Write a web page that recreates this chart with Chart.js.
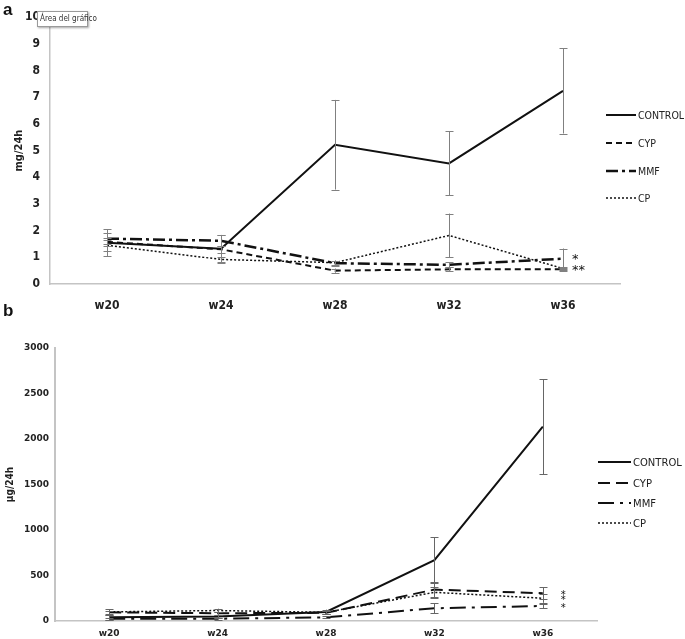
<!DOCTYPE html>
<html>
<head>
<meta charset="utf-8">
<script src="https://cdn.jsdelivr.net/npm/chart.js@4.4.1/dist/chart.umd.min.js"></script>
<style>
  body { margin: 0; background: #fff; width: 685px; height: 639px; position: relative; overflow: hidden; }
  .panel { position: absolute; left: 0; width: 685px; }
  #wrapA { top: 0; height: 318px; }
  #wrapB { top: 318px; height: 321px; }
  .tag { position: absolute; left: 3px; font: bold 17px 'Liberation Sans', Arial, sans-serif; color: #111; }
  .legend { position: absolute; color: #222; }
  .legend .item { position: absolute; left: 0; display: flex; align-items: center; white-space: nowrap; height: 14px; }
  .legend svg { display: block; }
  #legendA { left: 606px; top: 0; font: 10.5px 'Liberation Sans Narrow', 'DejaVu Sans Condensed', sans-serif; }
  #legendB { left: 598px; top: 318px; font: 10px 'DejaVu Sans', sans-serif; }
  #tip { position: absolute; left: 37px; top: 11px; width: 51px; height: 16px; box-sizing: border-box;
         border: 1px solid #9a9a9a; background: #fff; box-shadow: 1px 1px 2px rgba(0,0,0,0.35);
         font: 8px 'DejaVu Sans Condensed', sans-serif; color: #333; line-height: 14px; padding-left: 2px; white-space: nowrap; }
</style>
</head>
<body>
<div class="panel" id="wrapA"><canvas id="chartA"></canvas></div>
<div class="panel" id="wrapB"><canvas id="chartB"></canvas></div>
<div class="tag" style="top:0px">a</div>
<div class="tag" style="top:301px">b</div>
<div id="tip">Área del gráfico</div>
<div class="legend" id="legendA"></div>
<div class="legend" id="legendB"></div>
<script>
// ---- data ----
const weeks = ['w20', 'w24', 'w28', 'w32', 'w36'];
const seriesNames = ['CONTROL', 'CYP', 'MMF', 'CP'];

// panel a, mg/24h
const controlA = [1.55, 1.32, 5.22, 4.52, 7.24];
const cypA = [1.58, 1.30, 0.50, 0.55, 0.55];
const mmfA = [1.70, 1.62, 0.78, 0.72, 0.95];
const cpA = [1.45, 0.92, 0.80, 1.82, 0.58];
const controlErrA = [0.50, 0.52, 1.68, 1.20, 1.60];
const cypErrA = [0.15, 0.12, 0.08, 0.08, 0.05];
const mmfErrA = [0.20, 0.20, 0.10, 0.10, 0.38];
const cpErrA = [0.20, 0.10, 0.08, 0.82, 0.05];
const starsA = ['', '**', '*', ''];

// panel b, µg/24h
const controlB = [40, 50, 100, 668, 2135];
const cypB = [95, 85, 90, 345, 305];
const mmfB = [25, 25, 40, 140, 165];
const cpB = [100, 115, 95, 315, 250];
const controlErrB = [25, 20, 25, 252, 520];
const cypErrB = [20, 15, 15, 80, 65];
const mmfErrB = [10, 10, 10, 55, 25];
const cpErrB = [30, 20, 20, 60, 50];
const starsB = ['', '*', '*', '*'];

// line looks
const dashA = [[], [6, 4], [12, 4, 3, 4], [2, 2]];
const widthA = [2, 2, 2.5, 1.5];
const dashB = [[], [12, 6], [16, 6, 3, 6], [2, 2]];
const widthB = [2, 2, 2, 1.5];

// draws error bars and significance stars through the scales
const errorBars = {
  id: 'errorBars',
  afterDatasetsDraw(chart, args, opts) {
    const { ctx, scales: { x, y } } = chart;
    ctx.save();
    ctx.strokeStyle = opts.color;
    ctx.lineWidth = 1;
    ctx.setLineDash([]);
    chart.data.datasets.forEach((ds) => {
      ds.data.forEach((v, i) => {
        const px = Math.round(x.getPixelForValue(i)) + 0.5;
        const top = y.getPixelForValue(v + ds.errors[i]);
        const bot = y.getPixelForValue(Math.max(0, v - ds.errors[i]));
        ctx.beginPath();
        ctx.moveTo(px, top); ctx.lineTo(px, bot);
        ctx.moveTo(px - opts.cap, Math.round(top) + 0.5); ctx.lineTo(px + opts.cap, Math.round(top) + 0.5);
        ctx.moveTo(px - opts.cap, Math.round(bot) + 0.5); ctx.lineTo(px + opts.cap, Math.round(bot) + 0.5);
        ctx.stroke();
      });
    });
    ctx.fillStyle = '#111';
    ctx.font = opts.starFont;
    ctx.textAlign = 'left';
    ctx.textBaseline = 'middle';
    chart.data.datasets.forEach((ds) => {
      if (!ds.star) return;
      const last = ds.data.length - 1;
      ctx.fillText(ds.star, x.getPixelForValue(last) + opts.starDx, y.getPixelForValue(ds.data[last]) + opts.starDy);
    });
    ctx.restore();
  }
};

const makeSets = (vals, errs, stars, dash, widths, endMark) => vals.map((d, k) => ({
  label: seriesNames[k],
  data: d,
  errors: errs[k],
  star: stars[k],
  borderColor: '#111',
  backgroundColor: '#111',
  borderWidth: widths[k],
  borderDash: dash[k],
  pointStyle: 'rect',
  pointRadius: d.map((v, i) => (endMark === k && i === d.length - 1 ? 3 : 0)),
  pointBorderWidth: 0,
  tension: 0,
  fill: false,
}));

const buildLegend = (el, dash, widths, lineW, rows) => {
  seriesNames.forEach((name, k) => {
    const item = document.createElement('div');
    item.className = 'item';
    item.style.top = (rows[k] - 7) + 'px';
    item.innerHTML = `<svg width="${lineW}" height="6"><line x1="0" y1="3" x2="${lineW}" y2="3" stroke="#111" stroke-width="${widths[k]}" stroke-dasharray="${dash[k].join(' ') || 'none'}"/></svg><span style="margin-left:2px">${name}</span>`;
    el.appendChild(item);
  });
};

const fontA = "'Liberation Sans Narrow', 'DejaVu Sans Condensed', sans-serif";
const fontB = "'DejaVu Sans', sans-serif";

new Chart(document.getElementById('chartA'), {
  type: 'line',
  data: {
    labels: weeks,
    datasets: makeSets([controlA, cypA, mmfA, cpA], [controlErrA, cypErrA, mmfErrA, cpErrA], starsA, dashA, widthA, 1),
  },
  options: {
    responsive: true,
    maintainAspectRatio: false,
    animation: false,
    layout: { padding: { left: 0, right: 65, top: 12, bottom: 0 } },
    plugins: {
      legend: { display: false },
      tooltip: { enabled: false },
      errorBars: { color: '#808080', cap: 4, starFont: '13px ' + fontB, starDx: 9, starDy: 1 },
    },
    scales: {
      x: {
        offset: true,
        grid: { display: false, drawTicks: false },
        border: { display: true, color: '#c4c4c4', width: 1.5 },
        ticks: { color: '#222', padding: 15, font: { family: fontA, size: 12, weight: 'bold' } },
        afterFit: (s) => { s.height = 34; },
      },
      y: {
        min: 0, max: 10,
        ticks: { stepSize: 1, color: '#222', padding: 10, font: { family: fontA, size: 12, weight: 'bold' } },
        grid: { display: false, drawTicks: false },
        border: { display: true, color: '#c4c4c4', width: 1.5 },
        title: { display: true, text: 'mg/24h', color: '#222', padding: { top: 13, bottom: 0 }, font: { family: fontA, size: 11, weight: 'bold' } },
        afterFit: (s) => { s.width = 50; },
      },
    },
  },
  plugins: [errorBars],
});

new Chart(document.getElementById('chartB'), {
  type: 'line',
  data: {
    labels: weeks,
    datasets: makeSets([controlB, cypB, mmfB, cpB], [controlErrB, cypErrB, mmfErrB, cpErrB], starsB, dashB, widthB, -1),
  },
  options: {
    responsive: true,
    maintainAspectRatio: false,
    animation: false,
    layout: { padding: { left: 0, right: 88, top: 30, bottom: 0 } },
    plugins: {
      legend: { display: false },
      tooltip: { enabled: false },
      errorBars: { color: '#666', cap: 4, starFont: '10px ' + fontB, starDx: 18, starDy: 2 },
    },
    scales: {
      x: {
        offset: true,
        grid: { display: false, drawTicks: false },
        border: { display: true, color: '#c4c4c4', width: 1.5 },
        ticks: { color: '#222', padding: 7, font: { family: fontB, size: 9, weight: 'bold' } },
        afterFit: (s) => { s.height = 18; },
      },
      y: {
        min: 0, max: 3000,
        ticks: { stepSize: 500, color: '#222', padding: 6, font: { family: fontB, size: 9, weight: 'bold' },
                 callback: (v) => String(v) },
        grid: { display: false, drawTicks: false },
        border: { display: true, color: '#c4c4c4', width: 2 },
        title: { display: true, text: 'µg/24h', color: '#222', padding: { top: 4, bottom: 0 }, font: { family: fontA, size: 10, weight: 'bold' } },
        afterFit: (s) => { s.width = 55; },
      },
    },
  },
  plugins: [errorBars],
});

buildLegend(document.getElementById('legendA'), dashA, widthA, 30, [115, 143, 171, 198]);
buildLegend(document.getElementById('legendB'), dashB, widthB, 33, [144, 165, 185, 205]);
</script>
</body>
</html>
